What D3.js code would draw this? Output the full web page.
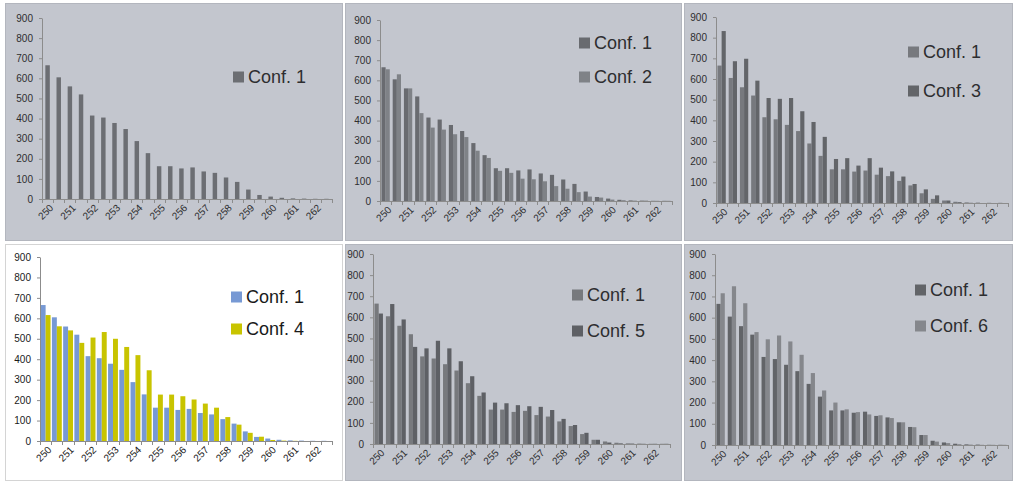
<!DOCTYPE html>
<html><head><meta charset="utf-8">
<script src="https://cdn.jsdelivr.net/npm/d3@7"></script>
<style>body{margin:0;background:#fff}svg{display:block}</style>
</head><body>
<svg id="c" width="1013" height="481"></svg>
<script>
const categories = ["250","250.5","251","251.5","252","252.5","253","253.5","254","254.5","255","255.5","256","256.5","257","257.5","258","258.5","259","259.5","260","260.5","261","261.5","262","262.5"];
const tickLabels = ["250","251","252","253","254","255","256","257","258","259","260","261","262"];
const yTicks = [0,100,200,300,400,500,600,700,800,900];
const conf1 = [665,605,560,520,415,405,378,348,288,228,163,163,152,157,137,130,107,85,47,20,12,6,3,2,1,1];
const conf2 = [655,630,560,437,365,355,332,318,250,214,150,140,111,108,98,74,61,44,22,17,7,4,2,2,1,1];
const conf3 = [832,686,698,592,508,504,508,444,392,320,213,217,181,217,171,153,128,92,66,37,12,4,1,0,0,0];
const conf4 = [616,561,541,480,506,533,500,460,420,346,227,227,219,203,183,163,117,80,40,21,5,2,1,0,0,0];
const conf5 = [618,663,590,460,453,489,453,392,321,244,196,193,184,179,176,161,119,90,53,20,7,3,2,1,1,1];
const conf6 = [715,748,668,532,498,516,488,425,339,257,200,168,155,144,140,127,107,84,47,16,9,4,2,1,1,1];
const seriesNames = ["Conf. 1","Conf. 2","Conf. 3","Conf. 4","Conf. 5","Conf. 6"];

const svg = d3.select("#c");
svg.style("font-family","'Liberation Sans', Arial, sans-serif");

const panels = [
  {box:[5,3,338,238], bg:"#c3c6ce", ax:[42,18,332,199], series:[conf1], names:[seriesNames[0]], colors:["#6c6e73"], pi:0.6, leg:[233,77,36], text:"#2e2e30"},
  {box:[345,3,337,238], bg:"#c3c6ce", ax:[380,20,672,201], series:[conf1,conf2], names:[seriesNames[0],seriesNames[1]], colors:["#696b70","#7f8287"], pi:0.26, leg:[579,43,34], text:"#2e2e30"},
  {box:[684,3,329,238], bg:"#c3c6ce", ax:[716,17,1008,203], series:[conf1,conf3], names:[seriesNames[0],seriesNames[2]], colors:["#77797e","#636569"], pi:0.26, leg:[908,52,39], text:"#2e2e30"},
  {box:[5,244,338,237], bg:"#ffffff", ax:[40,257,332,441], series:[conf1,conf4], names:[seriesNames[0],seriesNames[3]], colors:["#7799d4","#c8c400"], pi:0.12, leg:[231,297,32], text:"#1a1a1a"},
  {box:[345,244,337,237], bg:"#c3c6ce", ax:[373,254,670,444], series:[conf1,conf5], names:[seriesNames[0],seriesNames[4]], colors:["#77797d","#5e6065"], pi:0.26, leg:[572,295,36], text:"#2e2e30"},
  {box:[684,244,329,237], bg:"#c3c6ce", ax:[715,254,1008,445], series:[conf1,conf6], names:[seriesNames[0],seriesNames[5]], colors:["#626468","#85878c"], pi:0.26, leg:[915,290,36], text:"#2e2e30"}
];

panels.forEach(p => {
  const g = svg.append("g");
  const [bx,by,bw,bh] = p.box;
  g.append("rect").attr("x",bx+0.5).attr("y",by+0.5).attr("width",bw-1).attr("height",bh-1)
    .attr("fill",p.bg).attr("stroke", p.bg==="#ffffff" ? "#d4d4d4" : "#b3b6be");
  const [x0,yTop,x1,y0] = p.ax;
  const x = d3.scaleBand().domain(categories).range([x0,x1]).paddingInner(p.pi).paddingOuter(p.pi/2);
  const y = d3.scaleLinear().domain([0,900]).range([y0,yTop]);
  const xs = d3.scaleBand().domain(d3.range(p.series.length)).range([0,x.bandwidth()]);

  // bars
  p.series.forEach((s,si) => {
    g.append("g").selectAll("rect").data(s).join("rect")
      .attr("x",(d,i)=>x(categories[i])+xs(si))
      .attr("y",d=>y(d))
      .attr("width",xs.bandwidth())
      .attr("height",d=>y0-y(d))
      .attr("fill",p.colors[si]);
  });

  // y axis
  const ya = g.append("g").attr("transform",`translate(${x0},0)`)
    .call(d3.axisLeft(y).tickValues(yTicks).tickSize(3).tickPadding(6).tickSizeOuter(0));
  ya.select(".domain").attr("stroke","#8c8c8c");
  ya.selectAll(".tick line").attr("stroke","#8c8c8c");
  ya.selectAll("text").attr("font-size",10).attr("fill",p.text).attr("font-family","'Liberation Sans', Arial, sans-serif");

  // x axis line and ticks at category boundaries
  const step = x.step();
  const bounds = d3.range(categories.length+1).map(i => x0 + i*step);
  g.append("line").attr("x1",x0).attr("x2",x1).attr("y1",y0+0.5).attr("y2",y0+0.5).attr("stroke","#8c8c8c");
  g.append("g").selectAll("line").data(bounds).join("line")
    .attr("x1",d=>Math.round(d)+0.5).attr("x2",d=>Math.round(d)+0.5)
    .attr("y1",y0).attr("y2",y0+4).attr("stroke","#8c8c8c");
  g.append("g").selectAll("text").data(tickLabels).join("text")
    .attr("transform",(d,i)=>{const cx = x(categories[i*2]) + x.bandwidth()/2 + 4; return `translate(${cx},${y0+7}) rotate(-45)`;})
    .attr("text-anchor","end").attr("dy","0.35em")
    .attr("font-size",10).attr("fill",p.text).text(d=>d);

  // legend
  const [lx,ly,lgap] = p.leg;
  p.names.forEach((n,i) => {
    const cy = ly + i*lgap;
    g.append("rect").attr("x",lx).attr("y",cy-5.5).attr("width",11).attr("height",11).attr("fill",p.colors[i]);
    g.append("text").attr("x",lx+15).attr("y",cy).attr("dy","0.36em")
      .attr("font-size",18).attr("fill",p.text).text(n);
  });
});
</script>
</body></html>
